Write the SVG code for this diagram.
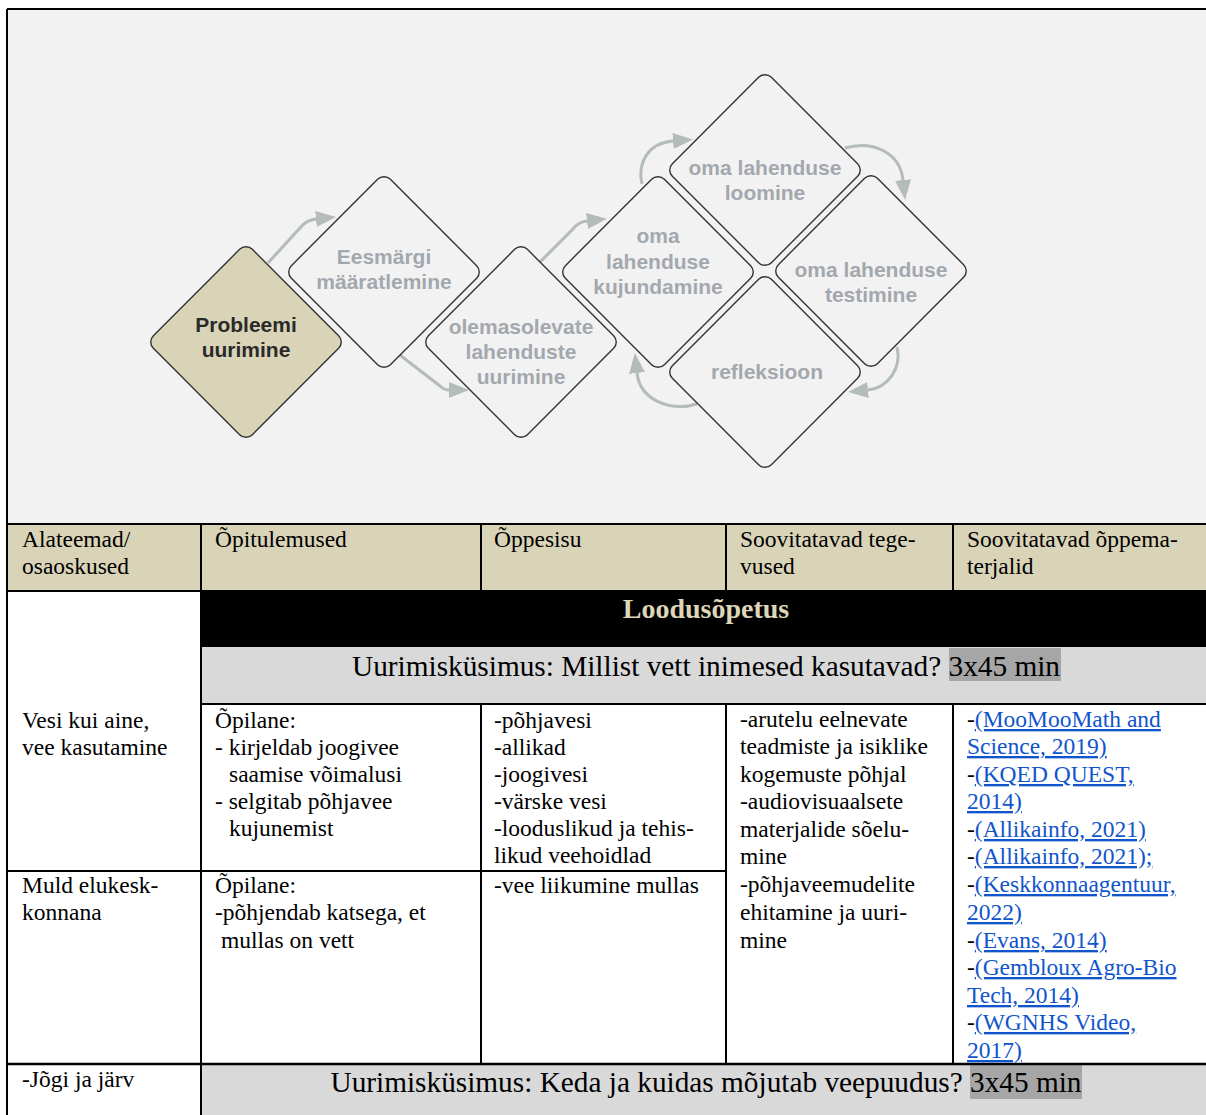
<svg xmlns="http://www.w3.org/2000/svg" width="1206" height="1115" viewBox="0 0 1206 1115">
<style>
.t{font-family:"Liberation Serif","Times New Roman",serif;font-size:23.5px;fill:#000}
.q{font-family:"Liberation Serif","Times New Roman",serif;font-size:29.3px;fill:#000;text-anchor:middle}
.lk{fill:#1155cc;text-decoration:underline}
.dl{font-family:"Liberation Sans",Arial,sans-serif;font-weight:bold;font-size:21px;fill:#a3a8ae;text-anchor:middle}
.dm{fill:#f2f2f2;stroke:#333;stroke-width:1.4}
.ar{fill:none;stroke:#b3bbbb;stroke-width:3;marker-end:url(#ah)}
.ln{stroke:#000;stroke-width:2;fill:none}
</style>
<defs>
<marker id="ah" markerUnits="userSpaceOnUse" viewBox="0 0 20 16" markerWidth="20" markerHeight="16" refX="0" refY="8" orient="auto">
<path d="M0,0 L20,8 L0,16 z" fill="#b3bbbb"/>
</marker>
</defs>
<rect x="0" y="0" width="1206" height="1115" fill="#fff"/>
<rect x="7" y="9" width="1199" height="515" fill="#f2f2f2"/>

<g id="connectors">
<path class="ar" d="M268,263 L299,229 Q306,220 316,219"/>
<path class="ar" d="M396,352 L440,386 Q444,390 449,390"/>
<path class="ar" d="M540,262 L572,230 Q578,222 587,221"/>
<path class="ar" d="M642,184 C637,163 648,143 673,141"/>
<path class="ar" d="M845,148 C872,140 900,152 903,180"/>
<path class="ar" d="M897,347 C902,368 888,388 868,390"/>
<path class="ar" d="M697,404 C670,412 640,400 637,373"/>
</g>

<g id="node-probleemi">
<rect x="-70" y="-70" width="140" height="140" rx="9" transform="translate(246,342) rotate(45)" fill="#d9d3b7" stroke="#333" stroke-width="1.4"/>
<text class="dl" x="246" y="332" style="fill:#2a2a2a">Probleemi</text>
<text class="dl" x="246" y="357" style="fill:#2a2a2a">uurimine</text>
</g>
<g id="node-eesmargi">
<rect class="dm" x="-70" y="-70" width="140" height="140" rx="9" transform="translate(384,272) rotate(45)"/>
<text class="dl" x="384" y="264">Eesmärgi</text>
<text class="dl" x="384" y="289">määratlemine</text>
</g>
<g id="node-olemasolevate">
<rect class="dm" x="-70" y="-70" width="140" height="140" rx="9" transform="translate(521,342) rotate(45)"/>
<text class="dl" x="521" y="334">olemasolevate</text>
<text class="dl" x="521" y="359">lahenduste</text>
<text class="dl" x="521" y="384">uurimine</text>
</g>
<g id="node-kujundamine">
<rect class="dm" x="-70" y="-70" width="140" height="140" rx="9" transform="translate(658,272) rotate(45)"/>
<text class="dl" x="658" y="243">oma</text>
<text class="dl" x="658" y="269">lahenduse</text>
<text class="dl" x="658" y="294">kujundamine</text>
</g>
<g id="node-loomine">
<rect class="dm" x="-70" y="-70" width="140" height="140" rx="9" transform="translate(765,170) rotate(45)"/>
<text class="dl" x="765" y="175">oma lahenduse</text>
<text class="dl" x="765" y="200">loomine</text>
</g>
<g id="node-testimine">
<rect class="dm" x="-70" y="-70" width="140" height="140" rx="9" transform="translate(871,271) rotate(45)"/>
<text class="dl" x="871" y="277">oma lahenduse</text>
<text class="dl" x="871" y="302">testimine</text>
</g>
<g id="node-refleksioon">
<rect class="dm" x="-70" y="-70" width="140" height="140" rx="9" transform="translate(765,372) rotate(45)"/>
<text class="dl" x="767" y="379">refleksioon</text>
</g>

<g id="table">
<rect x="7" y="524" width="1199" height="67" fill="#d9d3b7"/>
<rect x="201" y="591" width="1005" height="56" fill="#000"/>
<rect x="201" y="647" width="1005" height="57" fill="#d9d9d9"/>
<rect x="201" y="1064" width="1005" height="51" fill="#d9d9d9"/>
<rect x="949" y="648" width="112" height="33" fill="#a6a6a6"/>
<rect x="970" y="1065" width="112" height="34" fill="#a6a6a6"/>

<path class="ln" d="M7,9 H1206 M7,9 V1115 M7,524 H1206 M7,591 H1206 M201,704 H1206 M7,871 H726 M201,524 V1115 M481,524 V591 M726,524 V591 M953,524 V591 M481,704 V1064 M726,704 V1064 M953,704 V1064"/>
<path d="M7,1064 H1206" stroke="#000" stroke-width="2.5"/>

<text class="t" x="22" y="547">Alateemad/</text>
<text class="t" x="22" y="574">osaoskused</text>
<text class="t" x="215" y="547">Õpitulemused</text>
<text class="t" x="494" y="547">Õppesisu</text>
<text class="t" x="740" y="547">Soovitatavad tege-</text>
<text class="t" x="740" y="574">vused</text>
<text class="t" x="967" y="547">Soovitatavad õppema-</text>
<text class="t" x="967" y="574">terjalid</text>

<text x="706" y="618" style="font-family:'Liberation Serif','Times New Roman',serif;font-size:28px;font-weight:bold;fill:#ddd6b8;text-anchor:middle">Loodusõpetus</text>
<text class="q" x="706" y="676">Uurimisküsimus: Millist vett inimesed kasutavad? 3x45 min</text>

<text class="t" x="22" y="728">Vesi kui aine,</text>
<text class="t" x="22" y="755">vee kasutamine</text>
<text class="t" x="215" y="728">Õpilane:</text>
<text class="t" x="215" y="755">- kirjeldab joogivee</text>
<text class="t" x="229" y="782">saamise võimalusi</text>
<text class="t" x="215" y="809">- selgitab põhjavee</text>
<text class="t" x="229" y="836">kujunemist</text>
<text class="t" x="494" y="728">-põhjavesi</text>
<text class="t" x="494" y="755">-allikad</text>
<text class="t" x="494" y="782">-joogivesi</text>
<text class="t" x="494" y="809">-värske vesi</text>
<text class="t" x="494" y="836">-looduslikud ja tehis-</text>
<text class="t" x="494" y="863">likud veehoidlad</text>
<text class="t" x="740" y="727">-arutelu eelnevate</text>
<text class="t" x="740" y="754">teadmiste ja isiklike</text>
<text class="t" x="740" y="782">kogemuste põhjal</text>
<text class="t" x="740" y="809">-audiovisuaalsete</text>
<text class="t" x="740" y="837">materjalide sõelu-</text>
<text class="t" x="740" y="864">mine</text>
<text class="t" x="740" y="892">-põhjaveemudelite</text>
<text class="t" x="740" y="920">ehitamine ja uuri-</text>
<text class="t" x="740" y="948">mine</text>

<text class="t" x="967" y="727">-<tspan class="lk">(MooMooMath and</tspan></text>
<text class="t" x="967" y="754"><tspan class="lk">Science, 2019)</tspan></text>
<text class="t" x="967" y="782">-<tspan class="lk">(KQED QUEST,</tspan></text>
<text class="t" x="967" y="809"><tspan class="lk">2014)</tspan></text>
<text class="t" x="967" y="837">-<tspan class="lk">(Allikainfo, 2021)</tspan></text>
<text class="t" x="967" y="864">-<tspan class="lk">(Allikainfo, 2021);</tspan></text>
<text class="t" x="967" y="892">-<tspan class="lk">(Keskkonnaagentuur,</tspan></text>
<text class="t" x="967" y="920"><tspan class="lk">2022)</tspan></text>
<text class="t" x="967" y="948">-<tspan class="lk">(Evans, 2014)</tspan></text>
<text class="t" x="967" y="975">-<tspan class="lk">(Gembloux Agro-Bio</tspan></text>
<text class="t" x="967" y="1003"><tspan class="lk">Tech, 2014)</tspan></text>
<text class="t" x="967" y="1030">-<tspan class="lk">(WGNHS Video,</tspan></text>
<text class="t" x="967" y="1058"><tspan class="lk">2017)</tspan></text>

<text class="t" x="22" y="893">Muld elukesk-</text>
<text class="t" x="22" y="920">konnana</text>
<text class="t" x="215" y="893">Õpilane:</text>
<text class="t" x="215" y="920">-põhjendab katsega, et</text>
<text class="t" x="221" y="948">mullas on vett</text>
<text class="t" x="494" y="893">-vee liikumine mullas</text>

<text class="t" x="22" y="1087">-Jõgi ja järv</text>
<text class="q" x="706" y="1092">Uurimisküsimus: Keda ja kuidas mõjutab veepuudus? 3x45 min</text>
</g>
</svg>
